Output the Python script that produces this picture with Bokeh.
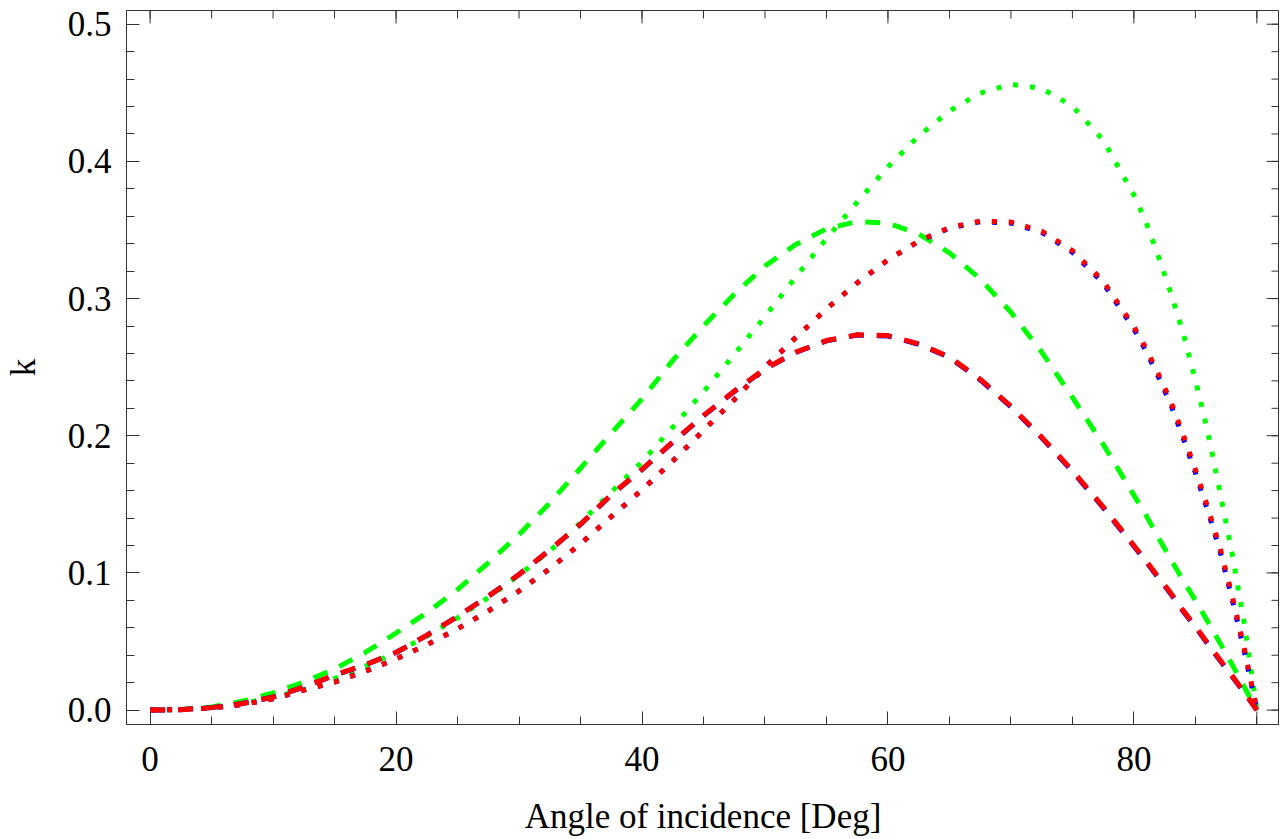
import math
from bokeh.plotting import figure
from bokeh.models import LinearAxis, FixedTicker, Range1d
from bokeh.embed import file_html
from bokeh.resources import INLINE

# ---- data ----
angle = [0, 2.5, 5, 7.5, 10, 12.5, 15, 17.5, 20, 22.5, 25, 27.5, 30, 32.5, 35, 37.5,
         40, 42.5, 45, 47.5, 50, 52.5, 55, 57.5, 60, 62.5, 65, 67.5, 70, 72.5, 75, 77.5,
         80, 81, 82, 83, 84, 85, 86, 87, 88, 89, 90]

blue_dashed = [0.0, 0.0003, 0.0018, 0.0048, 0.0095, 0.0167, 0.0254, 0.0330, 0.0420, 0.0545,
               0.0683, 0.0830, 0.0988, 0.1167, 0.1354, 0.1568, 0.1753, 0.1953, 0.2145, 0.2322,
               0.2486, 0.2607, 0.2692, 0.2734, 0.2727, 0.2667, 0.2571, 0.2408, 0.2210, 0.1985,
               0.1740, 0.1476, 0.1194, 0.1081, 0.0962, 0.0847, 0.0721, 0.0605, 0.0483, 0.0362,
               0.0244, 0.0125, 0.0]
red_dashed = [0.0, 0.0003, 0.0018, 0.0048, 0.0095, 0.0168, 0.0255, 0.0330, 0.0420, 0.0545,
              0.0683, 0.0830, 0.0989, 0.1168, 0.1355, 0.1570, 0.1755, 0.1955, 0.2147, 0.2324,
              0.2488, 0.2609, 0.2694, 0.2736, 0.2730, 0.2670, 0.2575, 0.2412, 0.2215, 0.1990,
              0.1746, 0.1482, 0.1200, 0.1087, 0.0968, 0.0853, 0.0727, 0.0611, 0.0488, 0.0367,
              0.0248, 0.0128, 0.0]
green_dashed = [0.0, 0.0004, 0.0022, 0.0065, 0.0125, 0.0205, 0.0300, 0.0420, 0.0562, 0.0709,
                0.0879, 0.1074, 0.1280, 0.1510, 0.1763, 0.2018, 0.2269, 0.2549, 0.2800, 0.3032,
                0.3237, 0.3394, 0.3509, 0.3562, 0.3550, 0.3471, 0.3333, 0.3144, 0.2900, 0.2610,
                0.2280, 0.1938, 0.1567, 0.1418, 0.1255, 0.1100, 0.0945, 0.0800, 0.0645, 0.0490,
                0.0330, 0.0165, 0.0]
blue_dotted = [0.0, 0.0003, 0.0015, 0.0040, 0.0082, 0.0145, 0.0204, 0.0283, 0.0373, 0.0476,
               0.0592, 0.0722, 0.0868, 0.1031, 0.1212, 0.1410, 0.1605, 0.1816, 0.2038, 0.2263,
               0.2500, 0.2715, 0.2925, 0.3114, 0.3281, 0.3417, 0.3514, 0.3560, 0.3551, 0.3483,
               0.3338, 0.3113, 0.2778, 0.2614, 0.2428, 0.2229, 0.1985, 0.1730, 0.1455, 0.1160,
               0.0805, 0.0418, 0.0]
red_dotted = [0.0, 0.0003, 0.0015, 0.0040, 0.0082, 0.0145, 0.0204, 0.0283, 0.0373, 0.0476,
              0.0592, 0.0722, 0.0868, 0.1031, 0.1212, 0.1410, 0.1605, 0.1816, 0.2038, 0.2263,
              0.2500, 0.2715, 0.2925, 0.3114, 0.3283, 0.3420, 0.3518, 0.3565, 0.3558, 0.3492,
              0.3350, 0.3128, 0.2796, 0.2634, 0.2450, 0.2250, 0.2010, 0.1755, 0.1480, 0.1185,
              0.0830, 0.0440, 0.0]
green_dotted = [0.0, 0.0003, 0.0018, 0.0048, 0.0092, 0.0150, 0.0230, 0.0320, 0.0420, 0.0540,
                0.0672, 0.0820, 0.0984, 0.1160, 0.1365, 0.1590, 0.1810, 0.2062, 0.2321, 0.2592,
                0.2869, 0.3157, 0.3437, 0.3704, 0.3960, 0.4186, 0.4367, 0.4498, 0.4562, 0.4532,
                0.4403, 0.4156, 0.3756, 0.3554, 0.3305, 0.3041, 0.2750, 0.2407, 0.2031, 0.1590,
                0.1135, 0.0620, 0.0]

x_major = [0, 20, 40, 60, 80]
x_major_unlabelled = [90]
x_minor = list(range(0, 95, 5))
y_major = [0.0, 0.1, 0.2, 0.3, 0.4, 0.5]
y_labels = {0.0: "0.0", 0.1: "0.1", 0.2: "0.2", 0.3: "0.3", 0.4: "0.4", 0.5: "0.5"}
y_minor = [round(0.02 * i, 2) for i in range(0, 26)]

X_MIN, X_MAX = -1.92, 91.84
Y_MIN, Y_MAX = -0.0105, 0.51

FONT = "Liberation Serif"
FS = "35px"
AX = "#333333"
MAJ, MIN = 13, 8

p = figure(width=1279, height=838, x_range=Range1d(X_MIN, X_MAX), y_range=Range1d(Y_MIN, Y_MAX),
           output_backend="svg", toolbar_location=None,
           x_axis_location=None, y_axis_location=None,
           min_border_left=116, min_border_right=0, min_border_top=10, min_border_bottom=114)
p.xgrid.visible = False
p.ygrid.visible = False
p.outline_line_color = AX
p.outline_line_width = 1
p.background_fill_color = "white"
p.border_fill_color = "white"


def style(ax, standoff):
    ax.axis_line_color = AX
    ax.axis_line_width = 1
    ax.major_tick_line_color = AX
    ax.minor_tick_line_color = AX
    ax.major_tick_in = MAJ
    ax.major_tick_out = 0
    ax.minor_tick_in = MIN
    ax.minor_tick_out = 0
    ax.major_label_text_font = FONT
    ax.major_label_text_font_size = FS
    ax.major_label_text_color = "black"
    ax.major_label_standoff = standoff
    ax.axis_label_text_font = FONT
    ax.axis_label_text_font_size = FS
    ax.axis_label_text_font_style = "normal"
    ax.axis_label_text_color = "black"


xb = LinearAxis(ticker=FixedTicker(ticks=x_major, minor_ticks=x_minor),
                axis_label="Angle of incidence [Deg]")
style(xb, 22)
xb.axis_label_standoff = 23

yl = LinearAxis(ticker=FixedTicker(ticks=y_major, minor_ticks=y_minor), axis_label="k",
                major_label_overrides=y_labels)
style(yl, 15)
yl.axis_label_standoff = 22

p.add_layout(xb, "below")
p.add_layout(yl, "left")

# mirrored ticks on the top and right frame edges, plus the unlabelled major tick at 90
tick_kw = dict(length_units="screen", line_color=AX, line_width=1)
p.ray(x=x_minor, y=Y_MAX, length=MIN, angle=-math.pi / 2, **tick_kw)
p.ray(x=x_major + x_major_unlabelled, y=Y_MAX, length=MAJ, angle=-math.pi / 2, **tick_kw)
p.ray(x=x_major_unlabelled, y=Y_MIN, length=MAJ, angle=math.pi / 2, **tick_kw)
p.ray(x=X_MAX, y=y_minor, length=MIN, angle=math.pi, **tick_kw)
p.ray(x=X_MAX, y=y_major, length=MAJ, angle=math.pi, **tick_kw)

W = 5
DASH = "15 13"
DOT = "5 12"
p.line(angle, green_dashed, line_color="#00FF00", line_width=W, line_dash=DASH)
p.line(angle, green_dotted, line_color="#00FF00", line_width=W, line_dash=DOT)
p.line(angle, blue_dashed, line_color="#0000FF", line_width=W, line_dash=DASH)
p.line(angle, blue_dotted, line_color="#0000FF", line_width=W, line_dash=DOT)
p.line(angle, red_dashed, line_color="#FF0000", line_width=W, line_dash=DASH)
p.line(angle, red_dotted, line_color="#FF0000", line_width=W, line_dash=DOT)

open("out.html", "w").write(file_html(p, INLINE))
